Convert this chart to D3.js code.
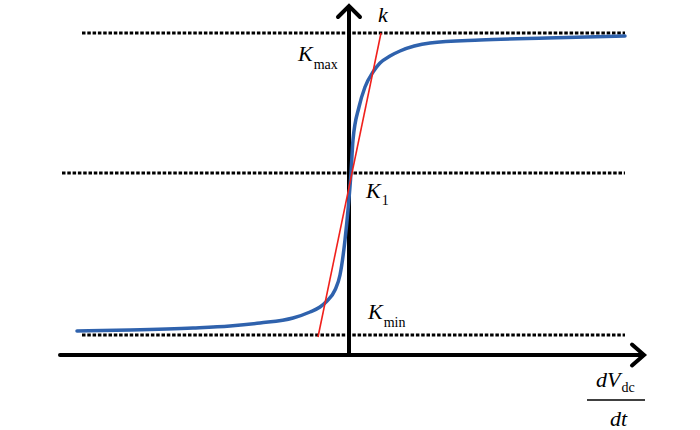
<!DOCTYPE html>
<html>
<head>
<meta charset="utf-8">
<script src="https://cdn.jsdelivr.net/npm/d3@7"></script>
<style>
  body { margin: 0; background: #fff; }
  svg { display: block; }
</style>
</head>
<body>
<svg id="chart"></svg>
<script>
const width = 700;
const height = 430;
const SERIF = 'Liberation Serif';

// sigmoid-ish curve (dV/dt, k)
const dvdt = [-27.2, -21.9, -15.6, -11.9, -8.9, -5.6, -3.9, -2.9, -2.2, -1.4, -0.9, -0.4, -0.1,
  0.2, 0.4, 1.0, 1.6, 2.4, 3.1, 4.1, 5.1, 8.1, 13.1, 19.8, 27.6];
const kValues = [2.4, 2.5, 2.7, 2.9, 3.2, 3.7, 4.3, 4.8, 5.4, 6.5, 8.0, 11.5, 14.5,
  18.2, 21.5, 24.8, 26.8, 28.3, 29.2, 29.9, 30.4, 31.2, 31.5, 31.7, 31.9];

// dotted reference levels
const levelNames = ['Kmax', 'K1', 'Kmin'];
const levelValues = [32.2, 18.2, 2.0];
const levelStart = [-26.7, -28.7, -26.7];
const levelEnd = 27.6;

// red tangent line through K1
const tangentX = [-3.1, 3.2];
const tangentK = [1.8, 32.2];

const x = d3.scaleLinear().domain([-28.9, 29.6]).range([60, 645]);
const y = d3.scaleLinear().domain([0, 35]).range([355, 5]);

const svg = d3.select('#chart')
  .attr('width', width)
  .attr('height', height)
  .style('font-family', SERIF);

svg.append('rect').attr('width', width).attr('height', height).attr('fill', '#fff');

// dotted levels
svg.selectAll('.level')
  .data(levelValues)
  .join('line')
  .attr('class', 'level')
  .attr('x1', (d, i) => x(levelStart[i]))
  .attr('x2', x(levelEnd))
  .attr('y1', d => y(d))
  .attr('y2', d => y(d))
  .attr('stroke', '#000')
  .attr('stroke-width', 3.2)
  .attr('stroke-dasharray', '3.5,1.8');

// axes with arrow heads
svg.append('line')
  .attr('x1', x(-28.9)).attr('x2', x(29.3))
  .attr('y1', y(0)).attr('y2', y(0))
  .attr('stroke', '#000').attr('stroke-width', 4).attr('stroke-linecap', 'round');
svg.append('polyline')
  .attr('points', [[x(28.3), y(1.05)], [x(29.5), y(0)], [x(28.3), y(-1.05)]].join(' '))
  .attr('fill', 'none').attr('stroke', '#000').attr('stroke-width', 4)
  .attr('stroke-linecap', 'round').attr('stroke-linejoin', 'miter');

svg.append('line')
  .attr('x1', x(0)).attr('x2', x(0))
  .attr('y1', y(-0.2)).attr('y2', y(34.7))
  .attr('stroke', '#000').attr('stroke-width', 4);
svg.append('polyline')
  .attr('points', [[x(-1.1), y(33.8)], [x(0), y(34.9)], [x(1.1), y(33.8)]].join(' '))
  .attr('fill', 'none').attr('stroke', '#000').attr('stroke-width', 4)
  .attr('stroke-linecap', 'round').attr('stroke-linejoin', 'miter');

// blue curve
const line = d3.line()
  .x(d => x(d[0]))
  .y(d => y(d[1]))
  .curve(d3.curveMonotoneX);

svg.append('path')
  .datum(d3.zip(dvdt, kValues))
  .attr('d', line)
  .attr('fill', 'none')
  .attr('stroke', '#2f62ad')
  .attr('stroke-width', 3.5)
  .attr('stroke-linecap', 'round');

// red tangent
svg.append('line')
  .attr('x1', x(tangentX[0])).attr('y1', y(tangentK[0]))
  .attr('x2', x(tangentX[1])).attr('y2', y(tangentK[1]))
  .attr('stroke', '#f0201c')
  .attr('stroke-width', 1.6);

// labels
function subLabel(px, py, main, sub, subDy) {
  const t = svg.append('text')
    .attr('x', px).attr('y', py)
    .attr('font-size', 22);
  t.append('tspan').attr('font-style', 'italic').text(main);
  t.append('tspan')
    .attr('font-size', 14)
    .attr('dy', subDy)
    .attr('dx', 1)
    .text(sub);
}

subLabel(298, 61, 'K', 'max', 8);
subLabel(366, 198, 'K', '1', 7);
subLabel(368, 319, 'K', 'min', 8);

svg.append('text')
  .attr('x', 378).attr('y', 22)
  .attr('font-size', 22)
  .attr('font-style', 'italic')
  .text('k');

// dV_dc / dt
const num = svg.append('text').attr('x', 596).attr('y', 387)
  .attr('font-size', 22);
num.append('tspan').attr('font-style', 'italic').text('dV');
num.append('tspan').attr('font-size', 14).attr('dy', 5).attr('dx', 1).text('dc');

svg.append('line')
  .attr('x1', 587).attr('x2', 645)
  .attr('y1', 400).attr('y2', 400)
  .attr('stroke', '#000').attr('stroke-width', 1.5);

svg.append('text')
  .attr('x', 610).attr('y', 426)
  .attr('font-size', 22)
  .attr('font-style', 'italic')
  .text('dt');
</script>
</body>
</html>
